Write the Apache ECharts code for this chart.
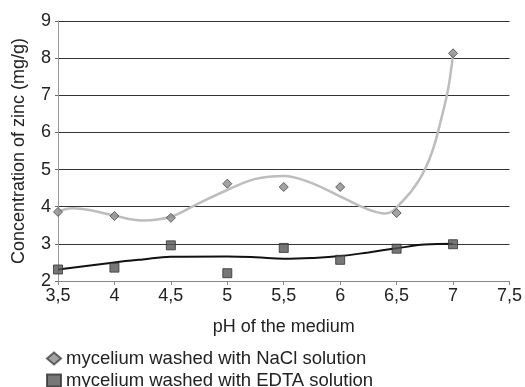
<!DOCTYPE html>
<html>
<head>
<meta charset="utf-8">
<script src="https://cdn.jsdelivr.net/npm/echarts@6/dist/echarts.min.js"></script>
<style>
  html, body { margin: 0; padding: 0; background: #fff; }
  #chart { width: 525px; height: 387px; }
</style>
</head>
<body>
<div id="chart"></div>
<script>
// measured points
const phValues = [3.5, 4, 4.5, 5, 5.5, 6, 6.5, 7];
const naclValues = [3.86, 3.75, 3.70, 4.62, 4.53, 4.53, 3.83, 8.13];
const edtaValues = [2.31, 2.36, 2.96, 2.21, 2.89, 2.57, 2.87, 2.99];

// trend curves
const naclTrendX = [3.5, 3.63, 3.78, 4.0, 4.25, 4.5, 4.72, 5.0, 5.25, 5.5, 5.72, 6.0, 6.22, 6.4, 6.55, 6.7, 6.81, 6.9, 6.96, 7.0];
const naclTrend = [3.87, 3.96, 3.91, 3.76, 3.63, 3.73, 4.05, 4.45, 4.75, 4.83, 4.67, 4.28, 3.96, 3.82, 4.14, 4.72, 5.44, 6.42, 7.23, 8.13];
const edtaTrendX = [3.5, 4.0, 4.25, 4.5, 5.0, 5.25, 5.5, 5.75, 6.0, 6.25, 6.5, 6.75, 7.0];
const edtaTrend = [2.31, 2.50, 2.58, 2.65, 2.66, 2.64, 2.60, 2.62, 2.67, 2.77, 2.88, 2.98, 3.0];

const seriesNames = ['mycelium washed with NaCl solution', 'mycelium washed with EDTA solution'];

const pair = (xs, ys) => xs.map((x, i) => [x, ys[i]]);
const font = 'Liberation Sans, Arial, sans-serif';

// one legend per row, stacked under the axis name
const legendRow = (name, icon, top) => ({
  left: 41,
  top: top,
  itemWidth: 14,
  itemHeight: 12,
  itemGap: 4,
  textStyle: { fontSize: 18.5, color: '#222', fontFamily: font },
  data: [{ name: name, icon: icon }]
});

const chart = echarts.init(document.getElementById('chart'), null, { renderer: 'canvas' });
chart.setOption({
  animation: false,
  textStyle: { fontFamily: font },
  grid: { left: 58, right: 14, top: 21, bottom: 106 },
  legend: [
    legendRow(seriesNames[0], 'diamond', 344),
    legendRow(seriesNames[1], 'rect', 366)
  ],
  xAxis: {
    type: 'value',
    min: 3.5,
    max: 7.5,
    interval: 0.5,
    name: 'pH of the medium',
    nameLocation: 'middle',
    nameGap: 37,
    nameTextStyle: { fontSize: 18, color: '#222' },
    axisLine: { lineStyle: { color: '#888', width: 1 } },
    axisTick: { show: true, length: 4, lineStyle: { color: '#888' } },
    axisLabel: {
      fontSize: 18, color: '#222', margin: 6,
      formatter: v => String(v).replace('.', ',')
    },
    splitLine: { show: false }
  },
  yAxis: {
    type: 'value',
    min: 2,
    max: 9,
    interval: 1,
    name: 'Concentration of zinc (mg/g)',
    nameLocation: 'middle',
    nameGap: 30,
    nameTextStyle: { fontSize: 18, color: '#222' },
    axisLine: { show: true, lineStyle: { color: '#999', width: 1 } },
    axisTick: { show: true, length: 3, lineStyle: { color: '#666' } },
    axisLabel: { fontSize: 18, color: '#222', margin: 7 },
    splitLine: { lineStyle: { color: '#333', width: 1 } }
  },
  series: [
    {
      name: 'nacl trend',
      type: 'line',
      data: pair(naclTrendX, naclTrend),
      smooth: 0.4,
      showSymbol: false,
      lineStyle: { color: '#bdbdbd', width: 2.5 },
      z: 2
    },
    {
      name: 'edta trend',
      type: 'line',
      data: pair(edtaTrendX, edtaTrend),
      smooth: 0.4,
      showSymbol: false,
      lineStyle: { color: '#111', width: 2 },
      z: 2
    },
    {
      name: seriesNames[0],
      type: 'scatter',
      data: pair(phValues, naclValues),
      symbol: 'diamond',
      symbolSize: 9,
      itemStyle: { color: '#8c8c8c', borderColor: '#444', borderWidth: 1 },
      z: 3
    },
    {
      name: seriesNames[1],
      type: 'scatter',
      data: pair(phValues, edtaValues),
      symbol: 'rect',
      symbolSize: 9,
      itemStyle: { color: '#555', borderColor: '#333', borderWidth: 1 },
      z: 3
    }
  ]
});
</script>
</body>
</html>
